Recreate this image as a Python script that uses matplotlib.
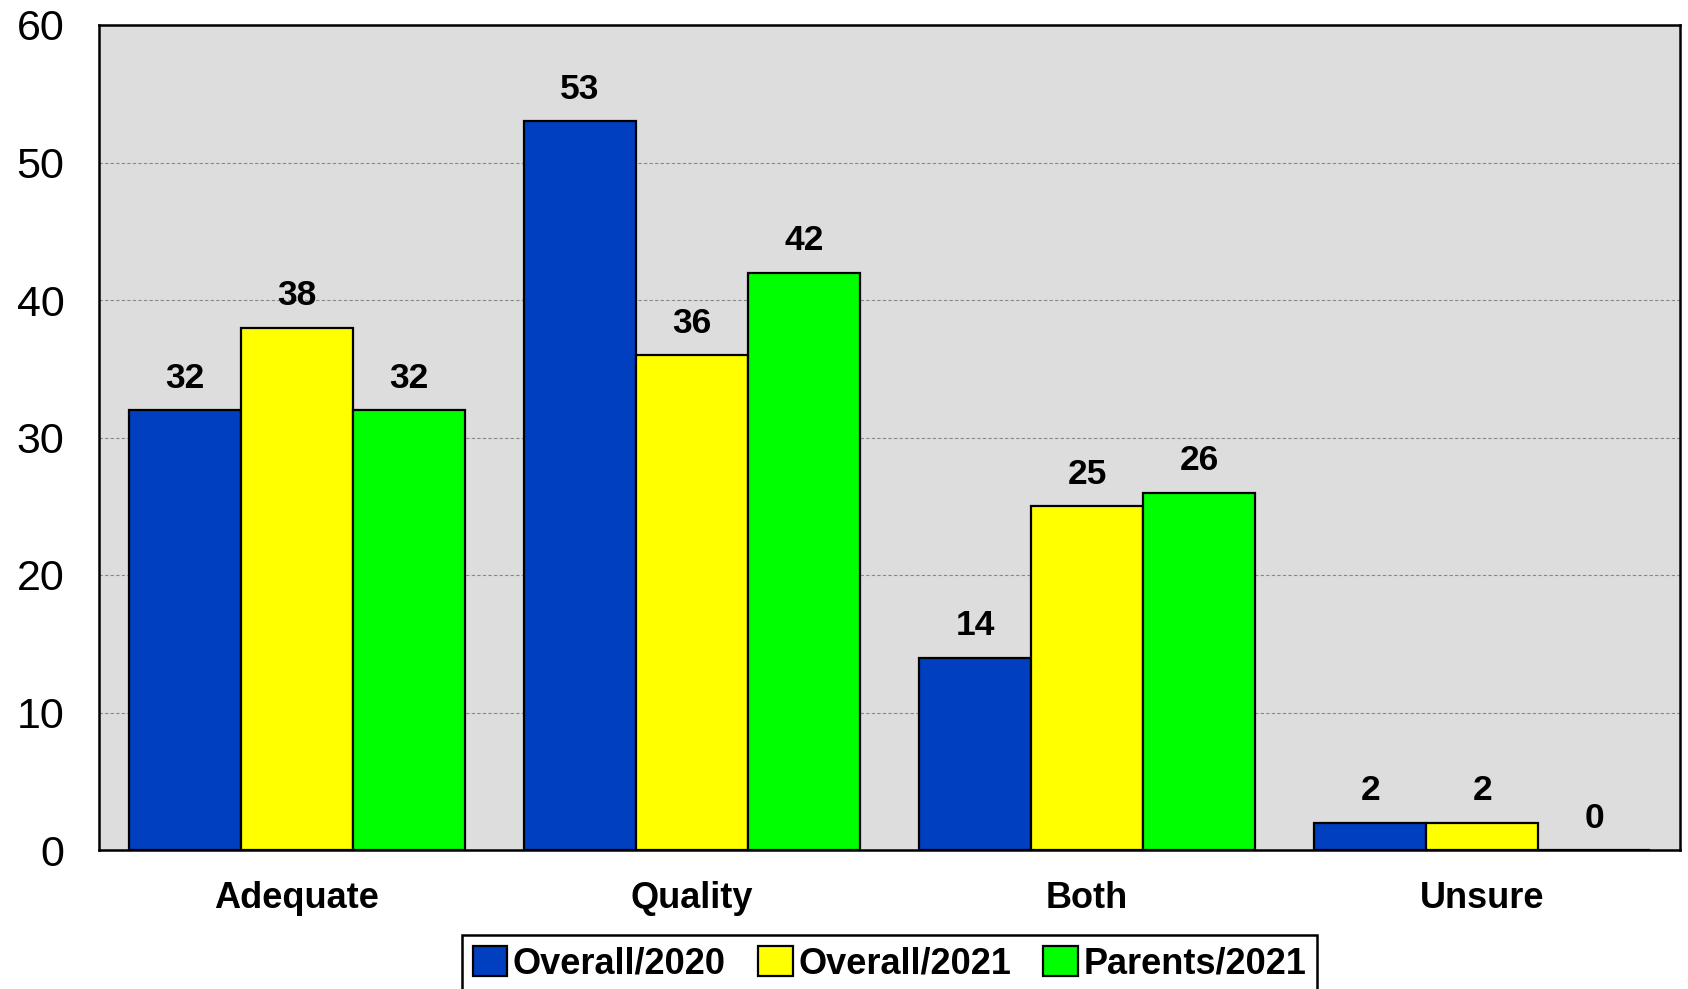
import matplotlib
matplotlib.use('Agg')
import matplotlib.pyplot as plt
import numpy as np

categories = ['Adequate', 'Quality', 'Both', 'Unsure']
series_names = ['Overall/2020', 'Overall/2021', 'Parents/2021']
overall_2020 = [32, 53, 14, 2]
overall_2021 = [38, 36, 25, 2]
parents_2021 = [32, 42, 26, 0]
yticks = [0, 10, 20, 30, 40, 50, 60]

colors = ['#0040C0', '#FFFF00', '#00FF00']

plt.rcParams['font.family'] = ['Liberation Sans', 'DejaVu Sans']

fig = plt.figure(figsize=(16.88, 9.89), dpi=100)
ax = fig.add_axes([99 / 1688, 1 - 850 / 989, (1680 - 99) / 1688, (850 - 25) / 989])
ax.set_facecolor('#DDDDDD')

x = np.arange(len(categories))
width = 0.2835
all_series = [overall_2020, overall_2021, parents_2021]
for i, (vals, name, col) in enumerate(zip(all_series, series_names, colors)):
    pos = x + (i - 1) * width
    ax.bar(pos, vals, width, color=col, edgecolor='black', linewidth=1.6,
           label=name, zorder=3)
    for px, v in zip(pos, vals):
        ax.annotate(str(v), (px, v), xytext=(0, 11), textcoords='offset points',
                    ha='center', va='bottom', fontsize=25.5, fontweight='bold',
                    zorder=4)

ax.set_xlim(-0.5, 3.5)
ax.set_ylim(0, 60)
ax.set_yticks(yticks)
ax.set_yticklabels([str(t) for t in yticks], fontsize=31)
ax.set_xticks(x)
ax.set_xticklabels(categories, fontsize=26, fontweight='bold')
ax.tick_params(axis='y', length=0, pad=25)
ax.tick_params(axis='x', length=0, pad=22)

ax.yaxis.grid(True, linestyle=(0, (3, 2)), color='#888888', linewidth=0.8, zorder=1)
ax.set_axisbelow(True)
for sp in ax.spines.values():
    sp.set_linewidth(1.8)
    sp.set_color('black')

leg = fig.legend(loc='upper center', bbox_to_anchor=(0.527, 1 - 935 / 989),
                 ncol=3, fancybox=False, framealpha=1, edgecolor='black',
                 handlelength=0.95, handleheight=0.9, handletextpad=0.15,
                 columnspacing=0.9, borderpad=0.3, borderaxespad=0,
                 prop={'family': ['Liberation Sans'],
                       'weight': 'bold', 'size': 26})
leg.get_frame().set_linewidth(1.8)

fig.savefig('out.png', dpi=100)
